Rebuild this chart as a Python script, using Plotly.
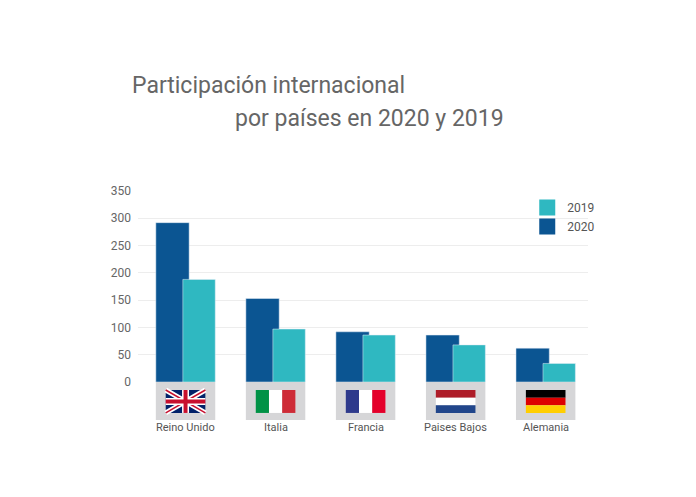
import plotly.graph_objects as go

countries = ["Reino Unido", "Italia", "Francia", "Paises Bajos", "Alemania"]
v2020 = [292, 153, 92, 86, 62]
v2019 = [188, 97, 86, 68, 34]
ytick_vals = [0, 50, 100, 150, 200, 250, 300, 350]

DARK = "#0B5592"
LIGHT = "#2FB8C1"
x = list(range(len(countries)))

fig = go.Figure()
fig.add_bar(x=x, y=v2020, width=0.37, offset=-0.33, marker_color=DARK, showlegend=False)
fig.add_bar(x=x, y=v2019, width=0.36, offset=-0.03, marker_color=LIGHT, showlegend=False)
fig.add_scatter(x=[None], y=[None], mode="markers", name="2019",
                marker=dict(symbol="square", size=17, color=LIGHT))
fig.add_scatter(x=[None], y=[None], mode="markers", name="2020",
                marker=dict(symbol="square", size=17, color=DARK))

shapes = []
def rect(x0, x1, y0, y1, c):
    shapes.append(dict(type="rect", xref="x", yref="paper", x0=x0, x1=x1, y0=y0, y1=y1,
                       fillcolor=c, line_width=0, layer="above"))
def line(x0, y0, x1, y1, c, w):
    shapes.append(dict(type="line", xref="x", yref="paper", x0=x0, x1=x1, y0=y0, y1=y1,
                       line=dict(color=c, width=w), layer="above"))

FT, FB, FW = -0.042, -0.162, 0.22
for i, name in enumerate(countries):
    rect(i - 0.33, i + 0.33, 0, -0.199, "#D6D6D8")
    l, r = i - FW, i + FW
    if name == "Reino Unido":
        rect(l, r, FB, FT, "#012169")
        line(l, FT, r, FB, "white", 5); line(l, FB, r, FT, "white", 5)
        line(l, FT, r, FB, "#C8102E", 1.5); line(l, FB, r, FT, "#C8102E", 1.5)
        m = (FT + FB) / 2
        line(l, m, r, m, "white", 7); line(i, FB, i, FT, "white", 7)
        line(l, m, r, m, "#C8102E", 4); line(i, FB, i, FT, "#C8102E", 4)
    elif name == "Italia":
        w = 2 * FW / 3
        for k, c in enumerate(["#009246", "#FFFFFF", "#CE2B37"]):
            rect(l + k * w, l + (k + 1) * w, FB, FT, c)
    elif name == "Francia":
        w = 2 * FW / 3
        for k, c in enumerate(["#2E3A8C", "#FFFFFF", "#E4002B"]):
            rect(l + k * w, l + (k + 1) * w, FB, FT, c)
    else:
        cols = ["#AE1C28", "#FFFFFF", "#21468B"] if name == "Paises Bajos" else ["#000000", "#DD0000", "#FFCE00"]
        h = (FT - FB) / 3
        for k, c in enumerate(cols):
            rect(l, r, FT - (k + 1) * h, FT - k * h, c)

ann = [dict(x=i, y=-0.283, xref="x", yref="paper", text=n, showarrow=False,
            font=dict(size=11, color="#555")) for i, n in enumerate(countries)]
ann += [
    dict(x=122, y=77, xref="paper", yref="paper", text="Participación internacional", showarrow=False),
]
ann = ann[:-1]

fig.update_layout(
    width=696, height=497, paper_bgcolor="white", plot_bgcolor="white",
    margin=dict(l=130, r=116, t=183, b=123),
    barmode="overlay",
    font=dict(family="Roboto, Open Sans, sans-serif", color="#666"),
    xaxis=dict(range=[-0.528, 4.47], showticklabels=False, showgrid=False, zeroline=False, fixedrange=True),
    yaxis=dict(range=[0, 350], tickvals=ytick_vals, gridcolor="#EDEDED", zeroline=False,
               tickfont=dict(size=12, color="#666"), ticks="", ticklabelstandoff=6),
    legend=dict(x=0.865, y=0.99, xanchor="left", yanchor="top", bgcolor="rgba(0,0,0,0)",
                font=dict(size=12, color="#555"), tracegroupgap=8, itemsizing="trace"),
    shapes=shapes,
    annotations=ann + [
        dict(text="Participación internacional", xref="paper", yref="paper",
             x=(122 - 130) / 450, y=(374 - 77) / 191, xanchor="left", yanchor="middle",
             showarrow=False, font=dict(size=23, color="#666")),
        dict(text="por países en 2020 y 2019", xref="paper", yref="paper",
             x=(225 - 130) / 450, y=(374 - 110) / 191, xanchor="left", yanchor="middle",
             showarrow=False, font=dict(size=23, color="#666")),
    ],
)
fig.write_html("out.html")
